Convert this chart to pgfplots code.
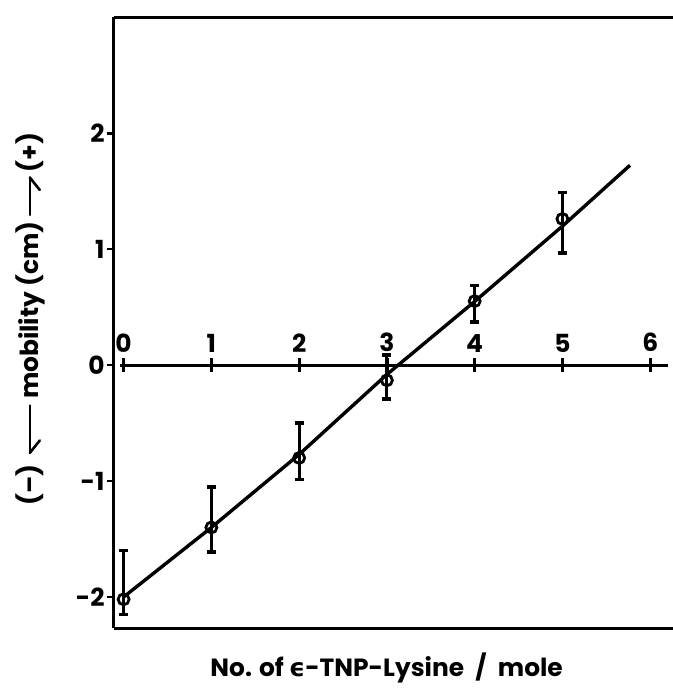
\documentclass[border=0pt]{standalone}
\usepackage{pgfplots}
\pgfplotsset{compat=1.18}
\usepackage{fontspec}
\setmainfont{Poppins}
\newfontfamily\dejavub{DejaVu Sans Bold}
\newcommand\labfont{\fontsize{25}{29}\selectfont\bfseries}
\newcommand\larr{\tikz[baseline=-0.62ex, line width=2.6bp, line cap=round]{\draw (0,0) -- (1.9em,0); \draw (0,0) -- (0.5em,-0.4em);}}
\newcommand\rarr{\tikz[baseline=-0.62ex, line width=2.6bp, line cap=round]{\draw (0,0) -- (1.5em,0); \draw (1.5em,0) -- (1.0em,-0.4em);}}
\begin{document}
\begin{tikzpicture}
\useasboundingbox (0bp,0bp) rectangle (673bp,688bp);
\begin{axis}[
  at={(113.7bp,59.7bp)}, anchor=south west,
  scale only axis, width=559.3bp, height=610.8bp,
  xmin=-0.113, xmax=6.26, ymin=-2.27, ymax=3.0,
  axis x line=box, axis y line=left,
  axis line style={-, line width=3.4bp},
  xtick=\empty,
  ytick={-2,-1,0,1,2}, yticklabels={-2,-1,0,1,2},
  tick align=outside, major tick length=7bp,
  ytick style={line width=2.4bp, black},
  yticklabel style={font=\labfont, inner sep=2bp},
  ylabel style={at={(axis description cs:-0.149,0.506)}, rotate=0, anchor=center, font=\labfont},
  xlabel style={at={(axis description cs:0.488,-0.065)}, anchor=center, font=\labfont},
  ylabel={{}(--)\ \ \larr\ mobility (cm)\ \rarr\,(+)},
  xlabel={No. of {\dejavub ϵ}-TNP-Lysine\hspace{0.45em}/\hspace{0.45em}mole},
  clip=false,
]
\addplot[line width=3.4bp, black] coordinates {(-0.04,0) (6.2,0)};
\addplot[only marks, mark=|, mark size=7bp, mark options={line width=3.2bp, black}]
  coordinates {(0,0) (1,0) (2,0) (3,0) (4,0) (5,0) (6,0)};
\addplot[line width=3.4bp, black] coordinates {(0,-2.0) (1,-1.40) (2,-0.77) (3,-0.08) (4,0.55) (5,1.20) (5.77,1.725)};
\addplot[only marks, mark=o, mark size=5.5bp, mark options={fill=white, draw=black, line width=2.8bp},
  error bars/.cd, y dir=both, y explicit,
  error bar style={line width=3bp, black},
  error mark options={rotate=90, mark size=4.5bp, line width=3.6bp, black}]
  table[x=x, y=y, y error plus=ep, y error minus=em] {
x y ep em
0 -2.02 0.42 0.13
1 -1.40 0.35 0.21
2 -0.80 0.30 0.185
3 -0.13 0.22 0.16
4 0.553 0.133 0.178
5 1.262 0.228 0.292
};
\foreach \k in {0,...,6} {
  \edef\temp{\noexpand\node[font=\noexpand\labfont, anchor=south, inner sep=0pt, yshift=13bp] at (axis cs:\k,0) {\k};}
  \temp
}
\end{axis}
\end{tikzpicture}
\end{document}
